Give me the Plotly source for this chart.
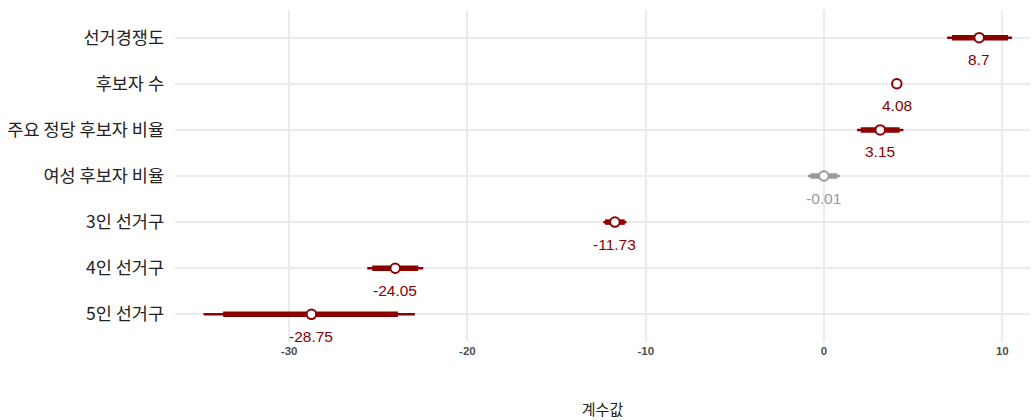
import plotly.graph_objects as go

variables = ["선거경쟁도", "후보자 수", "주요 정당 후보자 비율", "여성 후보자 비율", "3인 선거구", "4인 선거구", "5인 선거구"]
estimates = [8.7, 4.08, 3.15, -0.01, -11.73, -24.05, -28.75]
ci95_low = [6.90, 4.02, 1.85, -0.90, -12.38, -25.62, -34.80]
ci95_high = [10.54, 4.14, 4.45, 0.88, -11.08, -22.48, -22.95]
ci90_low = [7.18, 4.03, 2.06, -0.76, -12.28, -25.34, -33.70]
ci90_high = [10.32, 4.13, 4.24, 0.74, -11.18, -22.76, -23.90]
significant = [True, True, True, False, True, True, True]
x_ticks = [-30, -20, -10, 0, 10]
x_ticktext = ["-30", "-20", "-10", "0", "10"]

RED = "#8B0000"
GRAY = "#999999"

fig = go.Figure()
for i, v in enumerate(variables):
    c = RED if significant[i] else GRAY
    fig.add_trace(go.Scatter(x=[ci95_low[i], ci95_high[i]], y=[v, v], mode="lines",
                             line=dict(color=c, width=2.5), showlegend=False, hoverinfo="skip"))
    fig.add_trace(go.Scatter(x=[ci90_low[i], ci90_high[i]], y=[v, v], mode="lines",
                             line=dict(color=c, width=5.5), showlegend=False, hoverinfo="skip"))
    fig.add_trace(go.Scatter(x=[estimates[i]], y=[v], mode="markers",
                             marker=dict(size=9.5, color="white", line=dict(color=c, width=2)),
                             showlegend=False))
    fig.add_annotation(x=estimates[i], y=v, text=f"{estimates[i]:g}", showarrow=False,
                       yshift=-22, font=dict(size=15.5, color=c, family="Liberation Sans, Arial"))

fig.update_layout(
    width=1035, height=420,
    margin=dict(l=175, r=5, t=10, b=78),
    plot_bgcolor="white", paper_bgcolor="white",
    font=dict(family="Liberation Sans, Noto Sans CJK KR"),
    xaxis=dict(range=[-36.4, 11.55], tickvals=x_ticks, ticktext=[f"<b>{t}</b>" for t in x_ticktext],
               showgrid=True, gridcolor="#ebebeb", gridwidth=2, zeroline=False, showline=False,
               tickfont=dict(size=11.5, color="#4d4d4d", family="Liberation Sans Narrow, Liberation Sans"),
               ticks="", title=dict(text="계수값", font=dict(size=15, color="#222", family="Noto Sans CJK KR"), standoff=48)),
    yaxis=dict(categoryorder="array", categoryarray=variables[::-1], range=[-0.6, 6.6],
               showgrid=True, gridcolor="#ebebeb", gridwidth=2, zeroline=False,
               tickfont=dict(size=17.5, color="#222", family="Noto Sans CJK KR"), ticks="", ticklabelstandoff=10),
)
fig.write_html("out.html")
